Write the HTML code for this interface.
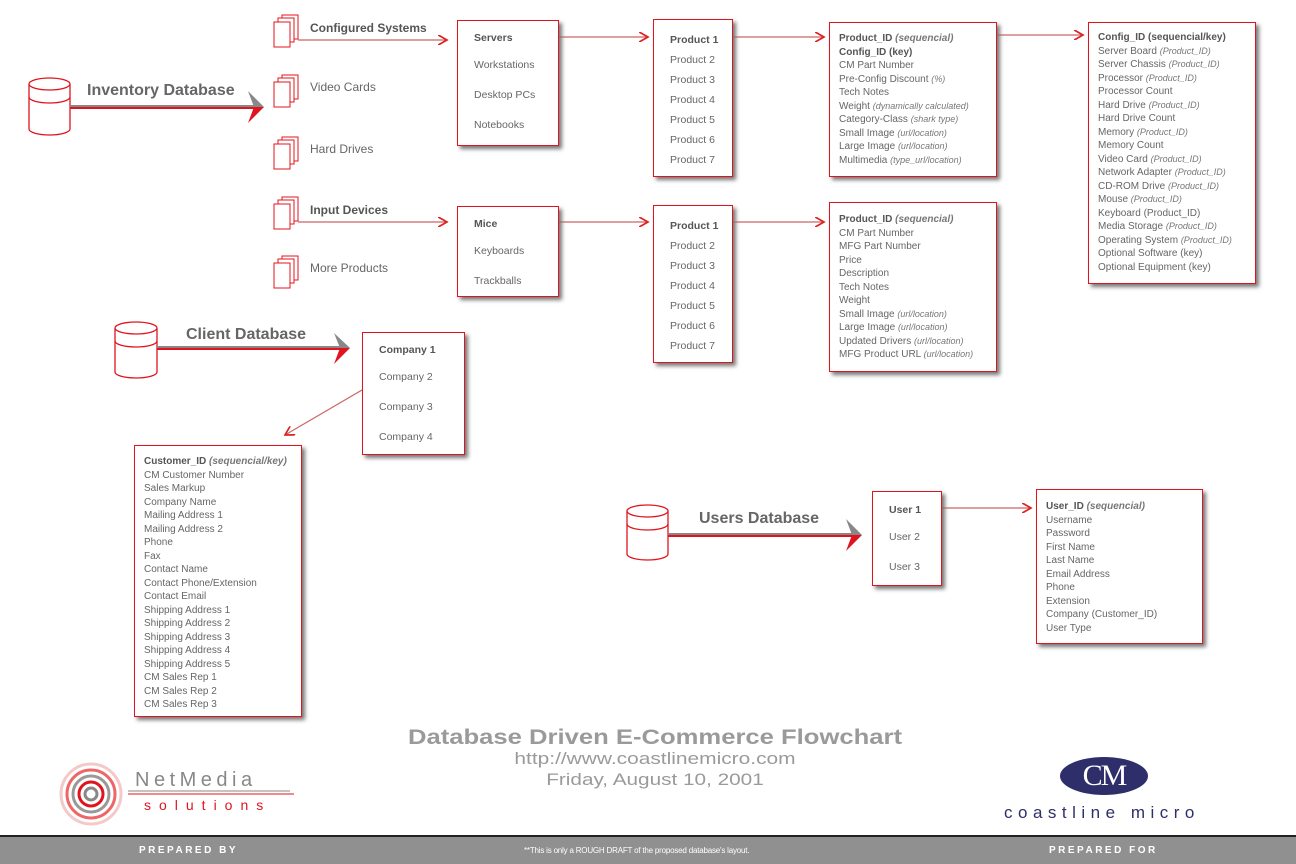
<!DOCTYPE html>
<html><head><meta charset="utf-8"><style>
body{margin:0;width:1296px;height:864px;background:#fff;position:relative;overflow:hidden;font-family:"Liberation Sans",sans-serif;color:#666}
.box{position:absolute;border:1px solid #e0141e;background:#fff;box-shadow:3px 3px 4px #777;box-sizing:border-box}
.it{position:absolute;font-size:10.5px;line-height:14px;white-space:nowrap}
.b{font-weight:bold;color:#555}
.det{font-size:10px;line-height:13.5px;padding-left:9px;white-space:nowrap}
.det i{font-size:9px;color:#777}
.lbl{position:absolute;font-size:12px;white-space:nowrap;line-height:14px}
.big{position:absolute;font-size:16px;font-weight:bold;color:#666;white-space:nowrap}
.ctr{position:absolute;left:355px;width:600px;text-align:center;color:#9a9a9a;white-space:nowrap}
</style></head><body>
<svg width="1296" height="864" style="position:absolute;left:0;top:0">
<defs><marker id="ah" markerWidth="8" markerHeight="8" refX="7" refY="4" orient="auto"><path d="M0,0 L7,4 L0,8" fill="none" stroke="#d22" stroke-width="1.3"/></marker></defs>
<g stroke="#c66" stroke-width="1.3" fill="none" marker-end="url(#ah)">
<line x1="298" y1="40" x2="447" y2="40"/><line x1="298" y1="222" x2="447" y2="222"/>
<line x1="559" y1="37" x2="648" y2="37"/><line x1="733" y1="37" x2="824" y2="37"/>
<line x1="997" y1="35" x2="1083" y2="35"/><line x1="559" y1="222" x2="648" y2="222"/>
<line x1="733" y1="222" x2="824" y2="222"/><line x1="362" y1="390" x2="285" y2="435"/>
<line x1="942" y1="508" x2="1031" y2="508"/></g>
<g stroke="#e0141e" stroke-width="1.3" fill="#fff">
<g><path d="M29,84 V129 A20.5,6 0 0 0 70,129 V84"/><ellipse cx="49.5" cy="84" rx="20.5" ry="6"/><path d="M29,97 A20.5,6 0 0 0 70,97" fill="none"/></g>
<g><path d="M115,328 V372 A21,6 0 0 0 157,372 V328"/><ellipse cx="136" cy="328" rx="21" ry="6"/><path d="M115,341 A21,6 0 0 0 157,341" fill="none"/></g>
<g><path d="M627,511 V554 A20.5,6 0 0 0 668,554 V511"/><ellipse cx="647.5" cy="511" rx="20.5" ry="6"/><path d="M627,524 A20.5,6 0 0 0 668,524" fill="none"/></g>
</g>
<g stroke-width="2">
<line x1="70" y1="106" x2="256" y2="106" stroke="#888"/><line x1="70" y1="108" x2="256" y2="108" stroke="#e0141e"/>
<polygon points="248,91 264,107 254,107" fill="#888"/><polygon points="254,107 264,107 248,123" fill="#e0141e"/>
<line x1="157" y1="347" x2="342" y2="347" stroke="#888"/><line x1="157" y1="349" x2="342" y2="349" stroke="#e0141e"/>
<polygon points="334,333 350,348 340,348" fill="#888"/><polygon points="340,348 350,348 334,364" fill="#e0141e"/>
<line x1="668" y1="534" x2="854" y2="534" stroke="#888"/><line x1="668" y1="536" x2="854" y2="536" stroke="#e0141e"/>
<polygon points="846,519 862,535 852,535" fill="#888"/><polygon points="852,535 862,535 846,551" fill="#e0141e"/>
</g>
<g stroke="#e0141e" stroke-width="1" fill="#fff">
<g><rect x="282" y="15" width="16" height="24"/><rect x="278" y="18" width="16" height="24"/><rect x="274" y="22" width="16" height="25"/></g>
<g><rect x="282" y="75" width="16" height="24"/><rect x="278" y="78" width="16" height="24"/><rect x="274" y="82" width="16" height="25"/></g>
<g><rect x="282" y="137" width="16" height="24"/><rect x="278" y="140" width="16" height="24"/><rect x="274" y="144" width="16" height="25"/></g>
<g><rect x="282" y="197" width="16" height="24"/><rect x="278" y="200" width="16" height="24"/><rect x="274" y="204" width="16" height="25"/></g>
<g><rect x="282" y="256" width="16" height="24"/><rect x="278" y="259" width="16" height="24"/><rect x="274" y="263" width="16" height="25"/></g>
</g>
<g fill="none" stroke-width="3">
<circle cx="91" cy="794" r="30" stroke="#f3c9c9"/><circle cx="91" cy="794" r="24" stroke="#e66"/><circle cx="91" cy="794" r="18" stroke="#999"/><circle cx="91" cy="794" r="12" stroke="#e0141e"/><circle cx="91" cy="794" r="6" stroke="#888"/>
</g>
<line x1="128" y1="791" x2="290" y2="791" stroke="#888" stroke-width="1"/><line x1="128" y1="794" x2="294" y2="794" stroke="#e0141e" stroke-width="1"/>
<ellipse cx="1104" cy="776" rx="44" ry="19" fill="#2d2e6a"/>
</svg>

<div class="big" style="left:87px;top:82px">Inventory Database</div>
<div class="big" style="left:186px;top:326px">Client Database</div>
<div class="big" style="left:699px;top:510px">Users Database</div>

<div class="lbl b" style="left:310px;top:21px">Configured Systems</div>
<div class="lbl" style="left:310px;top:80px">Video Cards</div>
<div class="lbl" style="left:310px;top:142px">Hard Drives</div>
<div class="lbl b" style="left:310px;top:203px">Input Devices</div>
<div class="lbl" style="left:310px;top:261px">More Products</div>

<div class="box" style="left:457px;top:20px;width:102px;height:126px">
<div class="it b" style="left:16px;top:10px">Servers</div><div class="it" style="left:16px;top:37px">Workstations</div><div class="it" style="left:16px;top:67px">Desktop PCs</div><div class="it" style="left:16px;top:97px">Notebooks</div></div>
<div class="box" style="left:457px;top:206px;width:102px;height:91px">
<div class="it b" style="left:16px;top:10px">Mice</div><div class="it" style="left:16px;top:37px">Keyboards</div><div class="it" style="left:16px;top:67px">Trackballs</div></div>
<div class="box" style="left:362px;top:332px;width:103px;height:123px">
<div class="it b" style="left:16px;top:10px">Company 1</div><div class="it" style="left:16px;top:37px">Company 2</div><div class="it" style="left:16px;top:67px">Company 3</div><div class="it" style="left:16px;top:97px">Company 4</div></div>
<div class="box" style="left:872px;top:491px;width:70px;height:95px">
<div class="it b" style="left:16px;top:11px">User 1</div><div class="it" style="left:16px;top:38px">User 2</div><div class="it" style="left:16px;top:68px">User 3</div></div>

<div class="box" style="left:653px;top:19px;width:80px;height:158px;padding:10px 0 0 16px;font-size:10.5px;line-height:20px">
<div class="b">Product 1</div><div>Product 2</div><div>Product 3</div><div>Product 4</div><div>Product 5</div><div>Product 6</div><div>Product 7</div></div>
<div class="box" style="left:653px;top:205px;width:80px;height:158px;padding:10px 0 0 16px;font-size:10.5px;line-height:20px">
<div class="b">Product 1</div><div>Product 2</div><div>Product 3</div><div>Product 4</div><div>Product 5</div><div>Product 6</div><div>Product 7</div></div>

<div class="box det" style="left:829px;top:22px;width:168px;height:155px;padding-top:9px">
<div class="b">Product_ID <i style="font-size:10px">(sequencial)</i></div><div class="b">Config_ID (key)</div><div>CM Part Number</div><div>Pre-Config Discount <i>(%)</i></div><div>Tech Notes</div><div>Weight <i>(dynamically calculated)</i></div><div>Category-Class <i>(shark type)</i></div><div>Small Image <i>(url/location)</i></div><div>Large Image <i>(url/location)</i></div><div>Multimedia <i>(type_url/location)</i></div></div>

<div class="box det" style="left:1088px;top:22px;width:168px;height:262px;padding-top:8px">
<div class="b">Config_ID (sequencial/key)</div><div>Server Board <i>(Product_ID)</i></div><div>Server Chassis <i>(Product_ID)</i></div><div>Processor <i>(Product_ID)</i></div><div>Processor Count</div><div>Hard Drive <i>(Product_ID)</i></div><div>Hard Drive Count</div><div>Memory <i>(Product_ID)</i></div><div>Memory Count</div><div>Video Card <i>(Product_ID)</i></div><div>Network Adapter <i>(Product_ID)</i></div><div>CD-ROM Drive <i>(Product_ID)</i></div><div>Mouse <i>(Product_ID)</i></div><div>Keyboard (Product_ID)</div><div>Media Storage <i>(Product_ID)</i></div><div>Operating System <i>(Product_ID)</i></div><div>Optional Software (key)</div><div>Optional Equipment (key)</div></div>

<div class="box det" style="left:829px;top:202px;width:168px;height:170px;padding-top:10px">
<div class="b">Product_ID <i style="font-size:10px">(sequencial)</i></div><div>CM Part Number</div><div>MFG Part Number</div><div>Price</div><div>Description</div><div>Tech Notes</div><div>Weight</div><div>Small Image <i>(url/location)</i></div><div>Large Image <i>(url/location)</i></div><div>Updated Drivers <i>(url/location)</i></div><div>MFG Product URL <i>(url/location)</i></div></div>

<div class="box det" style="left:134px;top:445px;width:168px;height:272px;padding-top:9px">
<div class="b">Customer_ID <i style="font-size:10px">(sequencial/key)</i></div><div>CM Customer Number</div><div>Sales Markup</div><div>Company Name</div><div>Mailing Address 1</div><div>Mailing Address 2</div><div>Phone</div><div>Fax</div><div>Contact Name</div><div>Contact Phone/Extension</div><div>Contact Email</div><div>Shipping Address 1</div><div>Shipping Address 2</div><div>Shipping Address 3</div><div>Shipping Address 4</div><div>Shipping Address 5</div><div>CM Sales Rep 1</div><div>CM Sales Rep 2</div><div>CM Sales Rep 3</div></div>

<div class="box det" style="left:1036px;top:489px;width:167px;height:155px;padding-top:10px">
<div class="b">User_ID <i style="font-size:10px">(sequencial)</i></div><div>Username</div><div>Password</div><div>First Name</div><div>Last Name</div><div>Email Address</div><div>Phone</div><div>Extension</div><div>Company (Customer_ID)</div><div>User Type</div></div>

<div class="ctr" style="top:726px;font-size:21px;font-weight:bold;transform:scaleX(1.22)">Database Driven E-Commerce Flowchart</div>
<div class="ctr" style="top:749px;font-size:17px;transform:scaleX(1.23)">http://www.coastlinemicro.com</div>
<div class="ctr" style="top:770px;font-size:17px;transform:scaleX(1.22)">Friday, August 10, 2001</div>

<div style="position:absolute;left:135px;top:769px;font-size:20px;color:#888;letter-spacing:4.5px">NetMedia</div>
<div style="position:absolute;left:144px;top:797px;font-size:14px;color:#e0141e;letter-spacing:8px">solutions</div>
<div style="position:absolute;left:1060px;top:759px;width:88px;text-align:center;font-family:'Liberation Serif',serif;font-size:30px;color:#fff;letter-spacing:-2px">CM</div>
<div style="position:absolute;left:1004px;top:803px;font-size:17px;color:#2d2e6a;letter-spacing:5.5px">coastline micro</div>

<div style="position:absolute;left:0;top:835px;width:1296px;height:29px;background:#909090;border-top:2px solid #222;box-sizing:border-box;color:#fff;font-size:10px">
<span style="position:absolute;left:139px;top:8px;font-weight:bold;letter-spacing:2.5px">PREPARED BY</span>
<span style="position:absolute;left:524px;top:9px;font-size:8px;letter-spacing:-0.2px">**This is only a ROUGH DRAFT of the proposed database's layout.</span>
<span style="position:absolute;left:1049px;top:8px;font-weight:bold;letter-spacing:2.5px">PREPARED FOR</span></div>
</body></html>
